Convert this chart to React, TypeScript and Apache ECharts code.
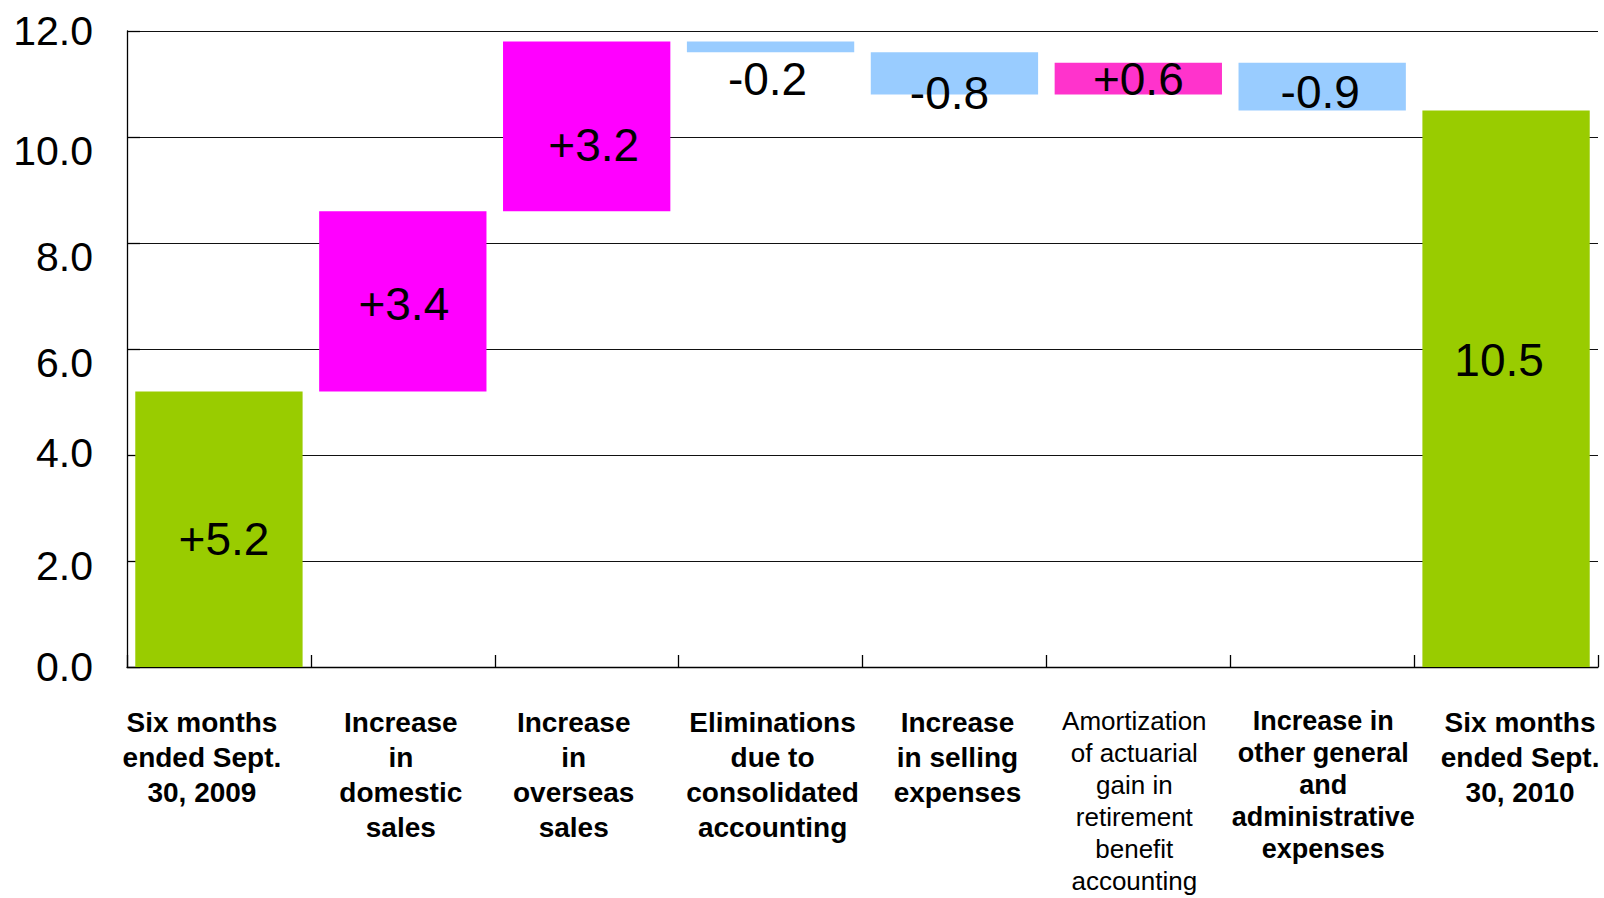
import React, { useEffect, useRef } from "react";
import * as echarts from "echarts";

// ---- data ----
const categories = [
  "Six months\nended Sept.\n30, 2009",
  "Increase\nin\ndomestic\nsales",
  "Increase\nin\noverseas\nsales",
  "Eliminations\ndue to\nconsolidated\naccounting",
  "Increase\nin selling\nexpenses",
  "Amortization\nof actuarial\ngain in\nretirement\nbenefit\naccounting",
  "Increase in\nother general\nand\nadministrative\nexpenses",
  "Six months\nended Sept.\n30, 2010",
];
const startValue = 5.2;
const changes = [3.4, 3.2, -0.2, -0.8, 0.6, -0.9];
const endValue = 10.5;
const yTicks = [0, 2, 4, 6, 8, 10, 12];

// ---- styles (kept apart from data) ----
const barColors = ["#99CC00", "#FF00FF", "#FF00FF", "#99CCFF", "#99CCFF", "#FF33CC", "#99CCFF", "#99CC00"];
const categoryLabelKind = ["b", "b", "b", "b", "b", "r", "s", "b"];
const categoryLabelShiftX = [-17, -2, -13, 2, 3, -4, 1, 14];
const valueLabelOffset: [number, number][] = [
  [5, 10], [1, 3], [7, 19], [-3, 32], [-5, 20], [0, 0], [-2, 5], [-7, -29],
];
const yLabelShift = [0, 5, -2, 14, 14, 14, 0];

const FONT = "Liberation Sans, Arial, sans-serif";
const kindStyle: Record<string, any> = {
  b: { fontSize: 28, fontWeight: "bold", lineHeight: 35 },
  s: { fontSize: 27, fontWeight: "bold", lineHeight: 32 },
  r: { fontSize: 26, fontWeight: "normal", lineHeight: 32 },
};

export default function App() {
  const ref = useRef<HTMLDivElement>(null);
  useEffect(() => {
    if (!ref.current) return;
    const chart = echarts.init(ref.current, null, { renderer: "svg" });

    // waterfall: invisible base + visible segment
    const bases: number[] = [0];
    const heights: number[] = [startValue];
    const labels: string[] = ["+" + startValue.toFixed(1)];
    let running = startValue;
    changes.forEach((d) => {
      const next = running + d;
      bases.push(Math.min(running, next));
      heights.push(Math.abs(d));
      labels.push((d >= 0 ? "+" : "-") + Math.abs(d).toFixed(1));
      running = next;
    });
    bases.push(0);
    heights.push(endValue);
    labels.push(endValue.toFixed(1));

    const yRich: Record<string, any> = {};
    yTicks.forEach((t, i) => {
      const s = yLabelShift[i];
      yRich["y" + i] = {
        fontSize: 41,
        color: "#000",
        fontFamily: FONT,
        padding: s >= 0 ? [2 * s, 0, 0, 0] : [0, 0, -2 * s, 0],
      };
    });

    const xRich: Record<string, any> = {};
    categories.forEach((c, i) => {
      const s = categoryLabelShiftX[i];
      xRich["c" + i] = {
        ...kindStyle[categoryLabelKind[i]],
        color: "#000",
        fontFamily: FONT,
        padding: s < 0 ? [0, -2 * s, 0, 0] : [0, 0, 0, 2 * s],
      };
    });

    chart.setOption({
      animation: false,
      textStyle: { fontFamily: FONT },
      grid: { left: 127, right: 6, top: 31, bottom: 231, containLabel: false },
      xAxis: {
        type: "category",
        data: categories,
        axisLine: { lineStyle: { color: "#000", width: 1.3 } },
        axisTick: { show: true, inside: true, length: 12, lineStyle: { color: "#000", width: 1.3 } },
        axisLabel: {
          interval: 0,
          margin: 38,
          verticalAlign: "top",
          formatter: (v: string, i: number) =>
            v.split("\n").map((l) => `{c${i}|${l}}`).join("\n"),
          rich: xRich,
        },
      },
      yAxis: {
        type: "value",
        min: 0,
        max: 12,
        interval: 2,
        axisLine: { show: true, lineStyle: { color: "#000", width: 1.3 } },
        axisTick: { show: true, inside: true, length: 13, lineStyle: { color: "#000", width: 1.3 } },
        splitLine: { show: true, lineStyle: { color: "#111", width: 1.2 } },
        axisLabel: {
          margin: 34,
          formatter: (v: number) => {
            const i = yTicks.indexOf(v);
            return `{y${i}|${v.toFixed(1)}}`;
          },
          rich: yRich,
        },
      },
      series: [
        {
          type: "bar",
          stack: "wf",
          silent: true,
          barCategoryGap: "9%",
          itemStyle: { color: "transparent" },
          data: bases,
        },
        {
          type: "bar",
          stack: "wf",
          barCategoryGap: "9%",
          data: heights.map((h, i) => ({
            value: h,
            itemStyle: { color: barColors[i] },
            label: {
              show: true,
              position: "inside",
              offset: valueLabelOffset[i],
              formatter: labels[i],
              fontSize: 46,
              color: "#000",
              fontFamily: FONT,
            },
          })),
        },
      ],
    });
    return () => chart.dispose();
  }, []);
  return (
    <div
      ref={ref}
      style={{ position: "fixed", left: 0, top: 0, width: 1604, height: 898, background: "#fff" }}
    />
  );
}
